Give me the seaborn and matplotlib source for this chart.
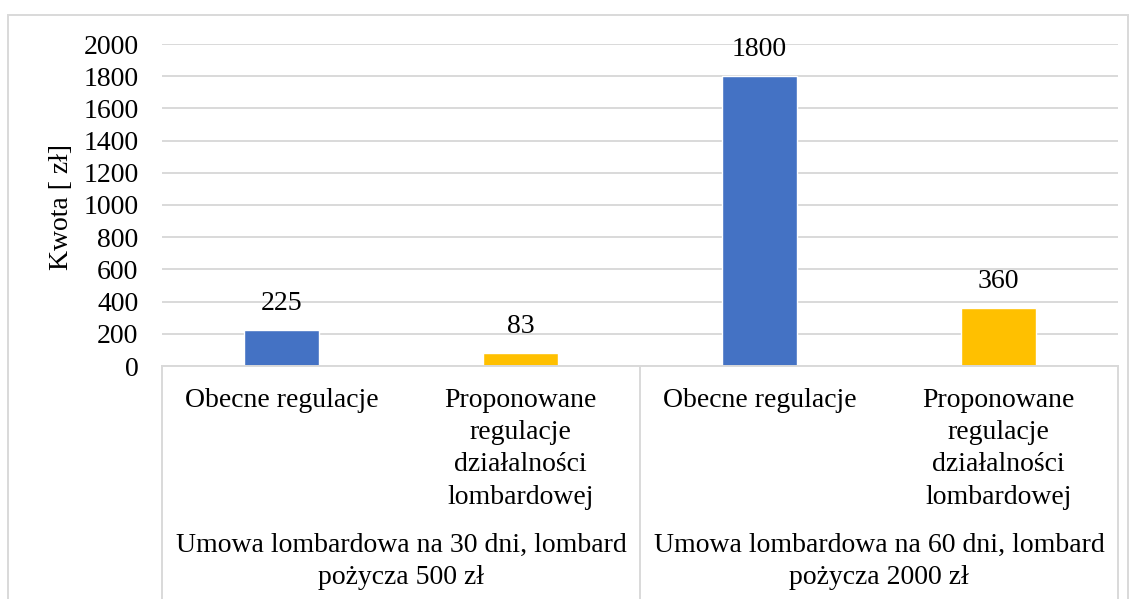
import matplotlib
matplotlib.use("Agg")
import matplotlib.pyplot as plt
import matplotlib.transforms as mtransforms
from matplotlib.patches import Rectangle
import seaborn as sns
import pandas as pd

# ---- data ----
groups = ["Umowa lombardowa na 30 dni, lombard\npożycza 500 zł",
          "Umowa lombardowa na 60 dni, lombard\npożycza 2000 zł"]
series = ["Obecne regulacje",
          "Proponowane\nregulacje\ndziałalności\nlombardowej"]
values_current = [225, 1800]
values_proposed = [83, 360]
y_ticks = [0, 200, 400, 600, 800, 1000, 1200, 1400, 1600, 1800, 2000]
y_label = "Kwota [ zł]"
colors = ["#4472C4", "#FFC000"]

rows = []
for gi, g in enumerate(groups):
    rows.append({"key": f"{gi}-0", "series": series[0], "value": values_current[gi]})
    rows.append({"key": f"{gi}-1", "series": series[1], "value": values_proposed[gi]})
df = pd.DataFrame(rows)
order = list(df["key"])

sns.set_theme(style="white")
plt.rcParams["font.family"] = ["Liberation Serif", "DejaVu Serif"]
plt.rcParams["text.color"] = "black"
plt.rcParams["ytick.color"] = "black"
plt.rcParams["ytick.labelcolor"] = "black"
FS = 20

W, H = 1131, 599
fig = plt.figure(figsize=(W / 100, H / 100), dpi=100)
ax = fig.add_axes([162 / W, 1 - 366 / H, (1118 - 162) / W, (366 - 44) / H])

sns.barplot(data=df, x="key", y="value", hue="series", order=order,
            palette=colors, dodge=False, width=0.315, ax=ax, legend=False,
            saturation=1)

ax.set_xlim(-0.5, 3.5)
ax.set_ylim(0, 2000)
ax.set_yticks(y_ticks)
ax.set_yticklabels([str(t) for t in y_ticks], fontsize=FS, color="black")
ax.tick_params(axis="y", length=0, pad=17)
ax.set_xticks([])
ax.set_xlabel("")
ax.set_ylabel("")
ax.grid(axis="y", color="#D9D9D9", lw=1.4)
ax.set_axisbelow(True)
for s in ["top", "right", "left"]:
    ax.spines[s].set_visible(False)
ax.spines["bottom"].set_color("#D9D9D9")
ax.spines["bottom"].set_linewidth(1.4)

# data labels
for cont in ax.containers:
    for bar in cont:
        h = bar.get_height()
        if h != h or h == 0:
            continue
        ax.annotate(f"{int(round(h))}", (bar.get_x() + bar.get_width() / 2, h),
                    xytext=(0, 19), textcoords="offset points",
                    ha="center", va="center", fontsize=FS, color="black")

# category labels
trans = mtransforms.blended_transform_factory(ax.transData, fig.transFigure)
for i in range(4):
    lab = series[i % 2]
    ax.text(i, 1 - 388 / H, lab, transform=trans, ha="center", va="top",
            fontsize=FS, linespacing=1.38, color="black")
for gi, g in enumerate(groups):
    ax.text(gi * 2 + 0.5, 1 - 533 / H, g, transform=trans, ha="center", va="top",
            fontsize=FS, linespacing=1.38, color="black")

# separators
for xs in [-0.5, 1.5, 3.5]:
    ax.plot([xs, xs], [1 - 366 / H, -0.05], transform=trans, color="#D9D9D9",
            lw=1.4, clip_on=False)

# y label
fig.text(62 / W, 1 - 207 / H, y_label, rotation=90, ha="center", va="center",
         fontsize=FS, color="black")

# chart border
fig.patches.append(Rectangle((8 / W, -0.1), (1128 - 8) / W, (1 - 15 / H) + 0.1,
                             transform=fig.transFigure, fill=False,
                             edgecolor="#D9D9D9", lw=1.4))

fig.savefig("out.png", dpi=100)
